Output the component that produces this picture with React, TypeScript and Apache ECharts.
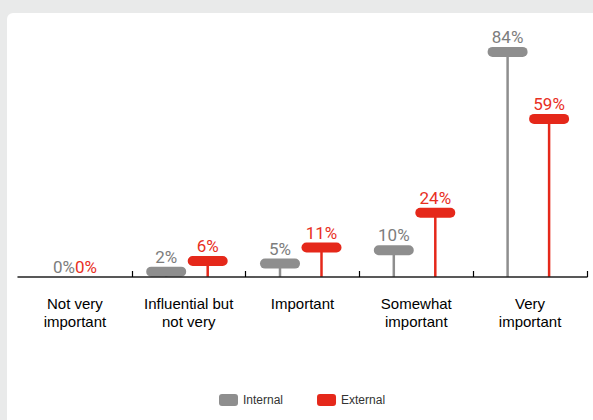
import React, { useEffect, useRef } from "react";
import * as echarts from "echarts";

const categories = [
  "Not very\nimportant",
  "Influential but\nnot very",
  "Important",
  "Somewhat\nimportant",
  "Very\nimportant",
];
const internalValues = [0, 2, 5, 10, 84];
const externalValues = [0, 6, 11, 24, 59];
const seriesNames = ["Internal", "External"];

const GREY = "#8e8e8e";
const RED = "#e5281a";
const GREY_TEXT = "#7d7d7d";
const RED_TEXT = "#e8301f";
const VALUE_FONT = "400 17px Roboto";

function makeRender(offset: number, zeroOffset: number, color: string, textColor: string) {
  return (params: any, api: any) => {
    const cat = api.value(0);
    const v = api.value(1);
    const base = api.coord([cat, 0]);
    const top = api.coord([cat, v]);
    const children: any[] = [];
    if (v > 0) {
      const x = base[0] + offset;
      children.push({
        type: "rect",
        shape: { x: x - 1.25, y: top[1], width: 2.5, height: base[1] - top[1] },
        style: { fill: color },
      });
      children.push({
        type: "rect",
        shape: { x: x - 20, y: top[1] - 5, width: 40, height: 10, r: 5 },
        style: { fill: color },
      });
      children.push({
        type: "text",
        x: x,
        y: top[1] - 15,
        style: {
          text: v + "%",
          fill: textColor,
          font: VALUE_FONT,
          align: "center",
          verticalAlign: "middle",
        },
      });
    } else {
      children.push({
        type: "text",
        x: base[0] + zeroOffset,
        y: base[1] - 10,
        style: {
          text: v + "%",
          fill: textColor,
          font: VALUE_FONT,
          align: "center",
          verticalAlign: "middle",
        },
      });
    }
    return { type: "group", children };
  };
}

export default function App() {
  const ref = useRef<HTMLDivElement>(null);
  useEffect(() => {
    if (!ref.current) return;
    const chart = echarts.init(ref.current, undefined, { renderer: "svg" });
    chart.setOption({
      animation: false,
      backgroundColor: "#e9eaea",
      graphic: [
        {
          type: "rect",
          z: -10,
          shape: { x: 7, y: 13, width: 620, height: 440, r: 6 },
          style: { fill: "#ffffff" },
        },
      ],
      grid: { left: 18, right: 6, top: 9, bottom: 143 },
      legend: {
        data: seriesNames,
        left: 214,
        top: 389,
        icon: "roundRect",
        itemWidth: 19,
        itemHeight: 12,
        itemGap: 34,
        textStyle: { fontFamily: "Liberation Sans", fontSize: 12, color: "#333" },
      },
      xAxis: {
        type: "category",
        data: categories,
        z: 5,
        axisLine: { show: true, lineStyle: { color: "#222", width: 1.5 } },
        axisTick: {
          show: true,
          inside: true,
          alignWithLabel: false,
          interval: (index: number) => index > 0,
          length: 6,
          lineStyle: { color: "#000", width: 1.2 },
        },
        axisLabel: {
          interval: 0,
          margin: 17,
          fontFamily: "Liberation Sans",
          fontSize: 15,
          lineHeight: 18,
          color: "#000",
        },
      },
      yAxis: { type: "value", min: 0, max: 100, show: false, splitLine: { show: false } },
      series: [
        {
          name: seriesNames[0],
          type: "custom",
          itemStyle: { color: GREY },
          renderItem: makeRender(-22.5, -11, GREY, GREY_TEXT),
          data: internalValues.map((v, i) => [i, v]),
          encode: { x: 0, y: 1 },
          clip: false,
        },
        {
          name: seriesNames[1],
          type: "custom",
          itemStyle: { color: RED },
          renderItem: makeRender(19, 11, RED, RED_TEXT),
          data: externalValues.map((v, i) => [i, v]),
          encode: { x: 0, y: 1 },
          clip: false,
        },
      ],
    });
    return () => chart.dispose();
  }, []);
  return (
    <div
      ref={ref}
      style={{ position: "fixed", left: 0, top: 0, width: 593, height: 420 }}
    />
  );
}
